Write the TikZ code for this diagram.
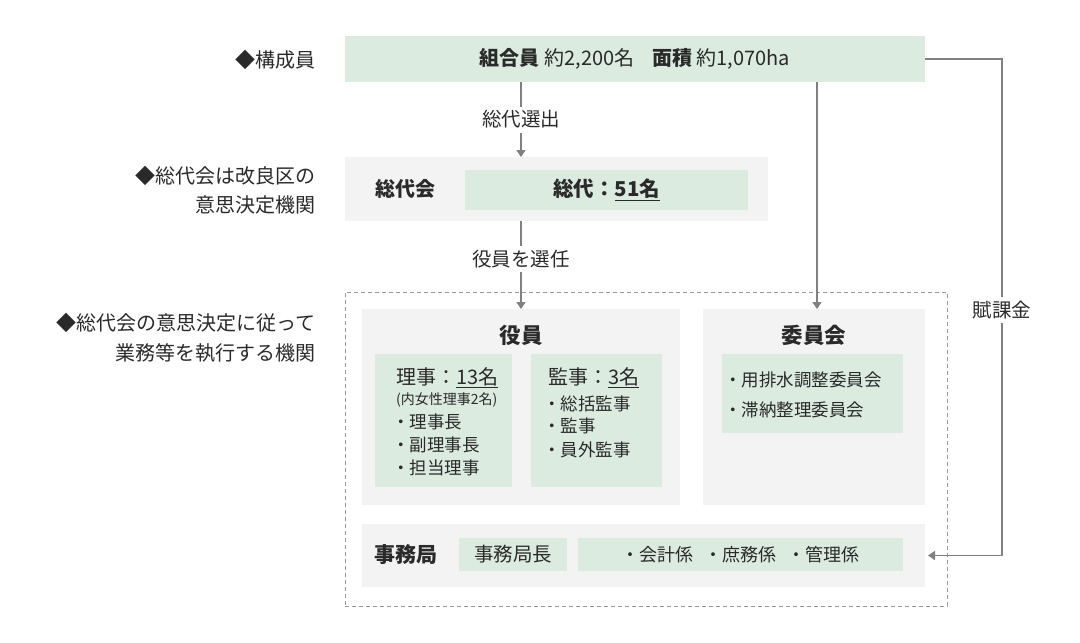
\documentclass[tikz,border=0pt]{standalone}
\usepackage{fontspec}
\setmainfont{Noto Sans CJK JP}
\usetikzlibrary{arrows.meta}
\definecolor{grn}{HTML}{DCEBE0}
\definecolor{gry}{HTML}{F3F3F3}
\definecolor{ln}{HTML}{808080}
\definecolor{dsh}{HTML}{999999}
\definecolor{txt}{HTML}{2A2A2A}
\begin{document}
\begin{tikzpicture}[x=1pt,y=-1pt,
  every node/.style={text=txt},
  gbox/.style={fill=grn, draw=none, inner sep=0pt, outer sep=0pt},
  graybox/.style={fill=gry, draw=none, inner sep=0pt, outer sep=0pt},
  conn/.style={draw=ln, line width=1.5pt, -{Triangle[width=9pt,length=7pt]}},
  lbl/.style={fill=white, inner xsep=2pt, inner ysep=4pt, font=\fontsize{19.5}{21}\selectfont},
  side/.style={anchor=east, inner sep=0pt, font=\fontsize{20}{22}\selectfont},
  item/.style={anchor=west, inner sep=0pt, font=\fontsize{17.5}{19}\selectfont},
  head/.style={inner sep=0pt, font=\fontsize{21.5}{23}\selectfont\bfseries},
  sub/.style={anchor=west, inner sep=0pt, font=\fontsize{20}{22}\selectfont}
]
\useasboundingbox[fill=white] (0,0) rectangle (1080,643);

% left labels
\node[side] (s1) at (316,60) {◆構成員};
\node[side] (s2a) at (316,176) {◆総代会は改良区の};
\node[side] (s2b) at (316,205) {意思決定機関};
\node[side] (s3a) at (316,323) {◆総代会の意思決定に従って};
\node[side] (s3b) at (316,353) {業務等を執行する機関};

% top box
\node[gbox, minimum width=580pt, minimum height=46pt,
      font=\fontsize{20}{22}\selectfont] (top) at (635,59)
  {\textbf{組合員} 約2,200名\hspace{0.9em}\textbf{面積} 約1,070ha};

% 総代会
\node[graybox, minimum width=423pt, minimum height=64pt] (sodai) at (556.5,189) {};
\node[inner sep=0pt, font=\fontsize{20}{22}\selectfont\bfseries] (sodaiT) at (405,189) {総代会};
\node[gbox, minimum width=283pt, minimum height=40pt,
      font=\fontsize{20.5}{22}\selectfont\bfseries] (sodaiN) at (606.5,190) {総代：\underline{51名}};

% executive dashed frame
\node[draw=dsh, dash pattern=on 4pt off 3pt, line width=1pt,
      minimum width=602pt, minimum height=314pt, inner sep=0pt] (exec) at (646,449) {};

% 役員
\node[graybox, minimum width=318pt, minimum height=196pt] (yakuin) at (521,407) {};
\node[head] (yakuinT) at (521,335) {役員};
\node[gbox, minimum width=137pt, minimum height=133pt] (riji) at (443.5,420.5) {};
\node[sub] (r1) at (396,378) {理事：\underline{13名}};
\node[item, font=\fontsize{14}{15}\selectfont] (r2) at (396,400) {(内女性理事2名)};
\node[item] (r3) at (392,422) {・理事長};
\node[item] (r4) at (392,445) {・副理事長};
\node[item] (r5) at (392,468) {・担当理事};

\node[gbox, minimum width=131pt, minimum height=133pt] (kanji) at (596.5,420.5) {};
\node[sub] (k1) at (548,378) {監事：\underline{3名}};
\node[item] (k2) at (543,404) {・総括監事};
\node[item] (k3) at (543,426) {・監事};
\node[item] (k4) at (543,450) {・員外監事};

% 委員会
\node[graybox, minimum width=222pt, minimum height=196pt] (iinkai) at (814,407) {};
\node[head] (iinkaiT) at (814,335) {委員会};
\node[gbox, minimum width=181pt, minimum height=79pt] (iinkaiG) at (812.5,393.5) {};
\node[item] (i1) at (724,380) {・用排水調整委員会};
\node[item] (i2) at (724,410) {・滞納整理委員会};

% 事務局
\node[graybox, minimum width=563pt, minimum height=63pt] (jimu) at (643.5,555.5) {};
\node[inner sep=0pt, font=\fontsize{21}{22}\selectfont\bfseries] (jimuT) at (406,555) {事務局};
\node[gbox, minimum width=108pt, minimum height=33pt,
      font=\fontsize{19.5}{21}\selectfont] (jimuC) at (513,554.5) {事務局長};
\node[gbox, minimum width=325pt, minimum height=33pt,
      font=\fontsize{18}{20}\selectfont] (jimuK) at (740.5,554.5) {・会計係\hspace{0.6em}・庶務係\hspace{0.6em}・管理係};

% connectors
\coordinate (xa) at (521,0);
\coordinate (xb) at (817,0);
\draw[conn] (top.south -| xa) -- node[lbl, pos=0.5] (l1) {総代選出} (sodai.north -| xa);
\draw[conn] (sodai.south -| xa) -- node[lbl, pos=0.43] (l2) {役員を選任} (yakuin.north -| xa);
\draw[conn] (top.south -| xb) -- (iinkai.north -| xb);
\coordinate (rc) at (1002,59);
\draw[conn, shorten >=3pt] (top.east) -- (rc) |- (jimu.east);
\node[lbl] (fuka) at (1002,310) {賦課金};
\end{tikzpicture}
\end{document}
